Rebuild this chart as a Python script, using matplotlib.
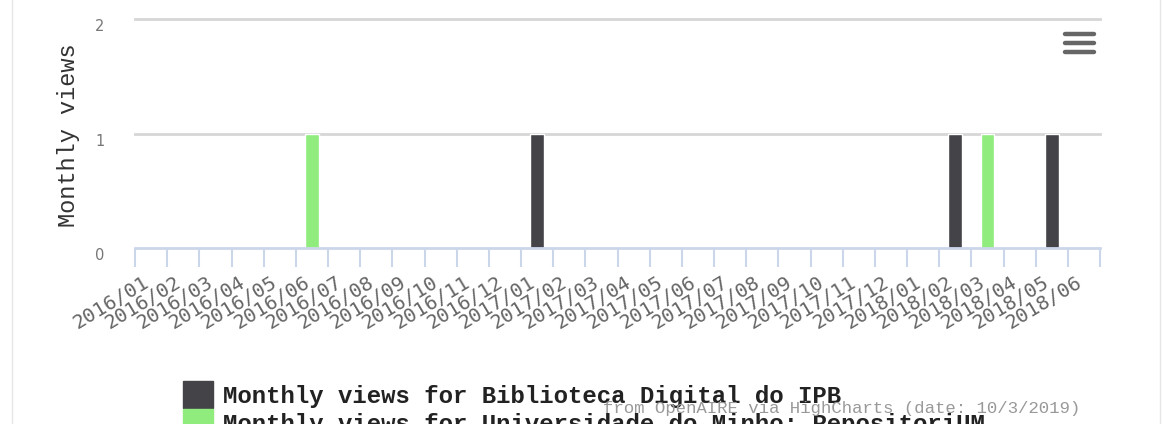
import numpy as np
import matplotlib
matplotlib.use("Agg")
import matplotlib.pyplot as plt
from matplotlib.lines import Line2D
from matplotlib.patches import Rectangle
from matplotlib.transforms import ScaledTranslation

# months on the x axis
categories = [
    "2016/01", "2016/02", "2016/03", "2016/04", "2016/05", "2016/06",
    "2016/07", "2016/08", "2016/09", "2016/10", "2016/11", "2016/12",
    "2017/01", "2017/02", "2017/03", "2017/04", "2017/05", "2017/06",
    "2017/07", "2017/08", "2017/09", "2017/10", "2017/11", "2017/12",
    "2018/01", "2018/02", "2018/03", "2018/04", "2018/05", "2018/06",
]

# monthly views per repository
views_ipb = [0, 0, 0, 0, 0, 0, 0, 0, 0, 0, 0, 0,
             1, 0, 0, 0, 0, 0, 0, 0, 0, 0, 0, 0,
             0, 1, 0, 0, 1, 0]
views_um = [0, 0, 0, 0, 0, 1, 0, 0, 0, 0, 0, 0,
            0, 0, 0, 0, 0, 0, 0, 0, 0, 0, 0, 0,
            0, 0, 1, 0, 0, 0]

series_names = [
    "Monthly views for Biblioteca Digital do IPB",
    "Monthly views for Universidade do Minho: RepositoriUM",
]
series_colors = ["#434348", "#90ed7d"]
y_ticks = [0, 1, 2]
credit = "from OpenAIRE via HighCharts (date: 10/3/2019)"

W, H = 1162, 424
fig = plt.figure(figsize=(W / 100, H / 100), dpi=100)
fig.patch.set_facecolor("white")

# plot area in pixel terms
left, right, top, bottom = 135, 1100, 19, 248
ax = fig.add_axes([left / W, 1 - bottom / H, (right - left) / W, (bottom - top) / H])

x = np.arange(len(categories))
for vals, color in zip([views_ipb, views_um], series_colors):
    vals = np.array(vals)
    mask = vals > 0
    ax.bar(x[mask], vals[mask], width=0.42, color=color,
           edgecolor="white", linewidth=1, zorder=2)

ax.set_xlim(-0.5, len(categories) - 0.5)
ax.set_ylim(0, 2)
for s in ax.spines.values():
    s.set_visible(False)

# grid lines and axis line
for v in y_ticks[1:]:
    ax.axhline(v, color="#d6d6d6", lw=2, zorder=0, clip_on=False)
ax.axhline(0, color="#ccd6eb", lw=2, zorder=3, clip_on=False)

# category boundary ticks
ax.set_xticks(np.arange(len(categories) + 1) - 0.5, minor=True)
ax.tick_params(axis="x", which="minor", length=14, width=1.5,
               color="#ccd6eb", direction="out")
ax.set_xticks(x)
ax.set_xticklabels(categories, rotation=31, ha="right",
                   rotation_mode="anchor", va="center",
                   family="DejaVu Sans Mono", fontsize=14.5, color="#666666")
ax.tick_params(axis="x", which="major", length=0, pad=24)
xshift = ScaledTranslation(-0.04, 0, fig.dpi_scale_trans)
for lbl in ax.get_xticklabels():
    lbl.set_transform(lbl.get_transform() + xshift)

ax.set_yticks(y_ticks)
ax.set_yticklabels([str(v) for v in y_ticks], fontsize=10.5,
                   color="#777777", family="DejaVu Sans")
ax.tick_params(axis="y", length=0, pad=22)
offset = ScaledTranslation(0, -0.06, fig.dpi_scale_trans)
for lbl in ax.get_yticklabels():
    lbl.set_transform(lbl.get_transform() + offset)

# axis title
fig.text(68 / W, 1 - 135 / H, "Monthly views", rotation=90, ha="center",
         va="center", family="Liberation Mono", fontsize=17, color="#333333")

# legend
leg_y = [380, 408]
for name, color, yy in zip(series_names, series_colors, leg_y):
    fig.add_artist(Rectangle((183 / W, 1 - (yy + 28) / H), 30 / W, 27 / H,
                             transform=fig.transFigure, color=color))
    fig.text(223 / W, 1 - (yy + 16) / H, name, ha="left", va="center",
             family="Liberation Mono", fontweight="bold", fontsize=17.3,
             color="#222222")

fig.text(1080 / W, 1 - 408 / H, credit, ha="right", va="center",
         family="Liberation Mono", fontsize=12.5, color="#999999")

# export menu icon
for yy in [34, 43, 52]:
    fig.add_artist(Line2D([1065 / W, 1094 / W], [1 - yy / H] * 2,
                          transform=fig.transFigure, color="#666666",
                          lw=3.2, solid_capstyle="round"))

# container edges
for xx in [12, 1160]:
    fig.add_artist(Line2D([xx / W] * 2, [0, 1], transform=fig.transFigure,
                          color="#e6e6e6", lw=1))

fig.savefig("out.png", dpi=100, facecolor="white")
